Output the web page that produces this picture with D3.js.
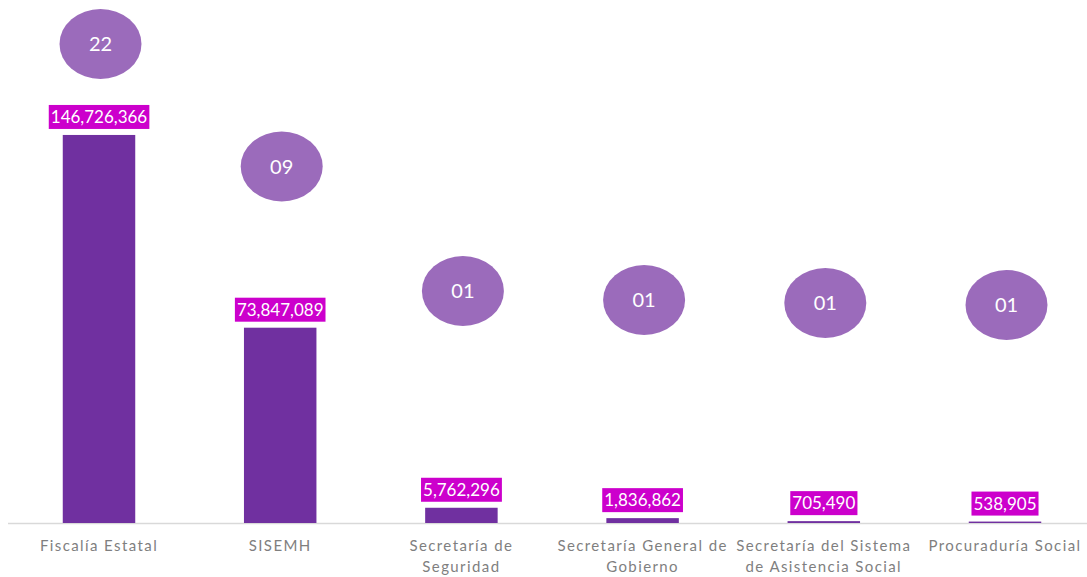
<!DOCTYPE html>
<html>
<head>
<meta charset="utf-8">
<title>Montos por dependencia</title>
<script src="https://d3js.org/d3.v7.min.js"></script>
<style>
  body { margin: 0; background: #fff; }
  svg { display: block; font-family: "Lato", "Open Sans", sans-serif; }
</style>
</head>
<body>
<script>
// datos
var categorias = [
  ["Fiscalía Estatal"],
  ["SISEMH"],
  ["Secretaría de", "Seguridad"],
  ["Secretaría General de", "Gobierno"],
  ["Secretaría del Sistema", "de Asistencia Social"],
  ["Procuraduría Social"]
];
var montos = [146726366, 73847089, 5762296, 1836862, 705490, 538905];
var conteos = ["22", "09", "01", "01", "01", "01"];
// altura de las burbujas (escala secundaria 0-100)
var alturaBurbuja = [100, 75.5, 50.6, 48.8, 48.2, 47.8];

var W = 1087, H = 577;
var svg = d3.select("body").append("svg").attr("width", W).attr("height", H);

var x = d3.scaleBand().domain(d3.range(montos.length)).range([8.4, 1095.6]).paddingInner(0.6).paddingOuter(0.3);
var y = d3.scaleLinear().domain([0, 150000000]).range([523, 126.3]);
var y2 = d3.scaleLinear().domain([0, 100]).range([544, 44]);

// línea base
svg.append("line")
  .attr("x1", 8).attr("x2", W).attr("y1", 523.5).attr("y2", 523.5)
  .attr("stroke", "#d9d9d9").attr("stroke-width", 1.5);

// barras
svg.selectAll(".bar").data(montos).enter().append("rect")
  .attr("class", "bar")
  .attr("x", function(d, i) { return x(i); })
  .attr("width", x.bandwidth())
  .attr("y", function(d) { return y(d); })
  .attr("height", function(d) { return 523 - y(d); })
  .attr("fill", "#7030a0");

// etiquetas de valor
var fmt = d3.format(",");
var et = svg.selectAll(".et").data(montos).enter().append("g")
  .attr("class", "et")
  .attr("transform", function(d, i) { return "translate(" + (x(i) + x.bandwidth() / 2) + "," + (y(d) - 18) + ")"; });
et.append("text")
  .attr("text-anchor", "middle").attr("dy", "0.35em")
  .attr("font-size", 17).attr("fill", "#fff")
  .text(function(d) { return fmt(d); });
et.each(function() {
  var g = d3.select(this);
  var b = g.select("text").node().getBBox();
  g.insert("rect", "text")
    .attr("x", b.x - 2).attr("width", b.width + 4)
    .attr("y", -12).attr("height", 24)
    .attr("fill", "#cc00cc");
});

// burbujas
var bur = svg.selectAll(".bur").data(conteos).enter().append("g")
  .attr("class", "bur")
  .attr("transform", function(d, i) { return "translate(" + (x(i) + x.bandwidth() / 2 + 1.5) + "," + y2(alturaBurbuja[i]) + ")"; });
bur.append("ellipse").attr("rx", 41).attr("ry", 35).attr("fill", "#9b6bbb");
bur.append("text")
  .attr("text-anchor", "middle").attr("dy", "0.35em")
  .attr("font-size", 20).attr("fill", "#fff")
  .text(function(d) { return d; });

// categorías
svg.selectAll(".cat").data(categorias).enter().append("text")
  .attr("class", "cat")
  .attr("text-anchor", "middle")
  .attr("x", function(d, i) { return x(i) + x.bandwidth() / 2; })
  .attr("y", 551)
  .attr("font-size", 15).attr("fill", "#7f7f7f")
  .attr("letter-spacing", 1.4)
  .each(function(d) {
    var t = d3.select(this);
    d.forEach(function(l, k) {
      t.append("tspan").attr("x", t.attr("x")).attr("dy", k === 0 ? 0 : 21).text(l);
    });
  });
</script>
</body>
</html>
